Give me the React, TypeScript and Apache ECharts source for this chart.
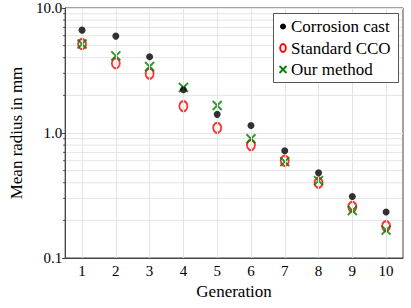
import React, { useEffect, useRef } from "react";
import * as echarts from "echarts";

const generations = ["1", "2", "3", "4", "5", "6", "7", "8", "9", "10"];
const corrosionCast = [6.65, 5.96, 4.08, 2.22, 1.41, 1.15, 0.72, 0.48, 0.31, 0.233];
const standardCCO = [5.15, 3.61, 2.98, 1.64, 1.1, 0.8, 0.6, 0.4, 0.257, 0.18];
const ourMethod = [5.15, 4.14, 3.4, 2.31, 1.66, 0.9, 0.59, 0.416, 0.24, 0.167];
const minorTickValues = [0.2, 0.3, 0.4, 0.5, 0.6, 0.7, 0.8, 0.9, 2, 3, 4, 5, 6, 7, 8, 9];
const legendNames = ["Corrosion cast", "Standard CCO", "Our method"];

const FONT = "Liberation Serif";
const AXIS_COLOR = "#444";
const GRID_COLOR = "#e4e4e4";
const RED = "#ff0000";
const GREEN = "#008000";
const X_PATH = "path://M0,0L10,10M10,0L0,10";

function legendGraphic() {
  const bx = 273;
  const by = 13;
  const bw = 125;
  const bh = 69;
  const ix = 283;
  const tx = 291;
  const ys = [26.5, 48, 69.5];
  const Z = 100;
  const els: any[] = [
    {
      type: "rect",
      z: Z,
      shape: { x: bx + 0.5, y: by + 0.5, width: bw, height: bh },
      style: { fill: "#fff", stroke: "#555", lineWidth: 1 },
    },
    { type: "circle", z: Z + 1, shape: { cx: ix, cy: ys[0], r: 3 }, style: { fill: "#000" } },
    {
      type: "ellipse",
      z: Z + 1,
      shape: { cx: ix, cy: ys[1], rx: 2.8, ry: 4 },
      style: { fill: "none", stroke: RED, lineWidth: 1.9 },
    },
    {
      type: "line",
      z: Z + 1,
      shape: { x1: ix - 3.5, y1: ys[2] - 3.5, x2: ix + 3.5, y2: ys[2] + 3.5 },
      style: { stroke: GREEN, lineWidth: 1.8 },
    },
    {
      type: "line",
      z: Z + 1,
      shape: { x1: ix + 3.5, y1: ys[2] - 3.5, x2: ix - 3.5, y2: ys[2] + 3.5 },
      style: { stroke: GREEN, lineWidth: 1.8 },
    },
  ];
  legendNames.forEach((name, i) => {
    els.push({
      type: "text",
      z: Z + 1,
      x: tx,
      y: ys[i],
      style: {
        text: name,
        font: "17px 'Liberation Serif'",
        fontFamily: FONT,
        fontSize: 17,
        fill: "#000",
        align: "left",
        verticalAlign: "middle",
      },
    });
  });
  return els;
}

export default function App() {
  const ref = useRef<HTMLDivElement>(null);
  useEffect(() => {
    document.body.style.margin = "0";
    if (!ref.current) return;
    const chart = echarts.init(ref.current, undefined, { renderer: "svg" });
    chart.setOption({
      animation: false,
      textStyle: { fontFamily: FONT, color: "#000" },
      grid: {
        left: 61,
        right: 8,
        top: 8,
        bottom: 50,
        show: true,
        borderColor: AXIS_COLOR,
        borderWidth: 1,
        backgroundColor: "transparent",
      },
      legend: { show: false, data: legendNames },
      graphic: legendGraphic(),
      xAxis: {
        type: "category",
        data: generations,
        boundaryGap: true,
        name: "Generation",
        nameLocation: "middle",
        nameGap: 25,
        nameTextStyle: { fontFamily: FONT, fontSize: 17, color: "#000" },
        axisLine: { show: true, lineStyle: { color: AXIS_COLOR } },
        axisTick: { show: false },
        axisLabel: { fontFamily: FONT, fontSize: 15, color: "#000", margin: 5 },
        splitLine: { show: false },
      },
      yAxis: {
        type: "log",
        logBase: 10,
        min: 0.1,
        max: 10,
        name: "Mean radius in mm",
        nameLocation: "middle",
        nameGap: 34,
        nameTextStyle: { fontFamily: FONT, fontSize: 17, color: "#000" },
        axisLine: { show: true, lineStyle: { color: AXIS_COLOR } },
        axisTick: { show: true, inside: false, length: 3, lineStyle: { color: AXIS_COLOR } },
        axisLabel: {
          fontFamily: FONT,
          fontSize: 15,
          color: "#000",
          margin: 3,
          formatter: (v: number) => (v >= 1 ? v.toFixed(1) : String(v)),
        },
        splitLine: { show: true, lineStyle: { color: GRID_COLOR } },
      },
      series: [
        {
          type: "custom",
          silent: true,
          z: 1,
          clip: false,
          data: minorTickValues.map((v) => [0, v]),
          encode: { x: 0, y: 1 },
          renderItem: (params: any, api: any) => {
            const cs = params.coordSys;
            const y = api.coord([0, api.value(1)])[1];
            return {
              type: "group",
              children: [
                {
                  type: "line",
                  shape: { x1: cs.x + 1, y1: y, x2: cs.x + cs.width - 1, y2: y },
                  style: { stroke: GRID_COLOR, lineWidth: 1 },
                },
                {
                  type: "line",
                  shape: { x1: cs.x - 2, y1: y, x2: cs.x, y2: y },
                  style: { stroke: AXIS_COLOR, lineWidth: 1 },
                },
              ],
            };
          },
        },
        {
          type: "line",
          silent: true,
          z: 1,
          data: [],
          markLine: {
            silent: true,
            symbol: "none",
            label: { show: false },
            lineStyle: { color: GRID_COLOR, width: 1, type: "solid" },
            data: generations.map((g) => ({ xAxis: g })),
          },
        },
        {
          name: legendNames[1],
          type: "scatter",
          z: 3,
          symbol: "circle",
          symbolSize: [8, 10],
          itemStyle: { color: "rgba(0,0,0,0)", borderColor: RED, borderWidth: 2 },
          data: standardCCO,
        },
        {
          name: legendNames[2],
          type: "scatter",
          z: 4,
          symbol: X_PATH,
          symbolSize: [9, 9],
          itemStyle: { color: "rgba(0,0,0,0)", borderColor: GREEN, borderWidth: 2 },
          data: ourMethod,
        },
        {
          name: legendNames[0],
          type: "scatter",
          z: 5,
          symbol: "circle",
          symbolSize: 7,
          itemStyle: { color: "#000" },
          data: corrosionCast,
        },
      ],
    });
    return () => chart.dispose();
  }, []);
  return <div ref={ref} style={{ width: 411, height: 308 }} />;
}
